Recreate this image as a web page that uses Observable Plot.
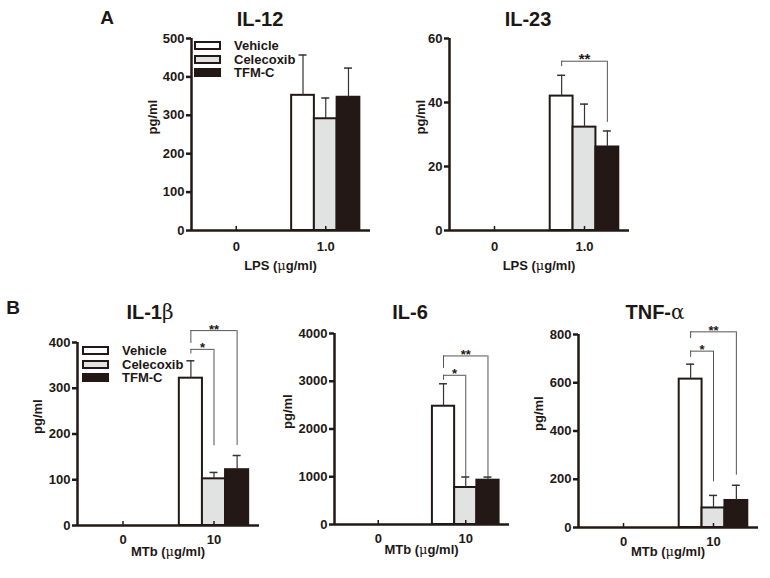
<!DOCTYPE html>
<html>
<head>
<meta charset="utf-8">
<script src="https://cdn.jsdelivr.net/npm/d3@7"></script>
<script src="https://cdn.jsdelivr.net/npm/@observablehq/plot@0.6"></script>
<style>
  body { margin: 0; background: #fff; }
  #wrap { position: relative; width: 770px; height: 578px; overflow: hidden; background: #fff;
          font-family: "Liberation Sans", Arial, sans-serif; color: #1d1715; }
  .abs { position: absolute; white-space: nowrap; line-height: 1; }
  .center { transform: translate(-50%, -50%); }
  .title { font-weight: bold; font-size: 20px; }
  .letter { font-weight: bold; font-size: 19px; }
  .xlab { font-weight: bold; font-size: 13px; }
  .greek { font-family: "DejaVu Serif", "Liberation Serif", serif; font-weight: normal; }
  .legrow { display: flex; align-items: center; height: 13.5px; font-weight: bold; font-size: 13px; }
  .sw { width: 23px; height: 5px; border: 2px solid #231815; margin-right: 13px; }
</style>
</head>
<body>
<div id="wrap"></div>
<script>
// ---------------- data ----------------
const treatments = ["Vehicle", "Celecoxib", "TFM-C"];
const treatmentFills = ["#ffffff", "#e1e3e3", "#231815"];
const lpsDoses = ["0", "1.0"];
const mtbDoses = ["0", "10"];

// mean and SD per dose (rows) and treatment (columns)
const il12Mean = [[0, 0, 0], [352, 291, 347]];
const il12Sd   = [[0, 0, 0], [105, 54, 76]];
const il23Mean = [[0, 0, 0], [42, 32.3, 26.1]];
const il23Sd   = [[0, 0, 0], [6.5, 7.2, 5.0]];
const il1bMean = [[0, 0, 0], [322, 102, 122]];
const il1bSd   = [[0, 0, 0], [38, 14, 31]];
const il6Mean  = [[0, 0, 0], [2477, 775, 928]];
const il6Sd    = [[0, 0, 0], [470, 220, 65]];
const tnfMean  = [[0, 0, 0], [615, 81, 112]];
const tnfSd    = [[0, 0, 0], [62, 52, 63]];

const il12Ticks = [0, 100, 200, 300, 400, 500];
const il23Ticks = [0, 20, 40, 60];
const il1bTicks = [0, 100, 200, 300, 400];
const il6Ticks  = [0, 1000, 2000, 3000, 4000];
const tnfTicks  = [0, 200, 400, 600, 800];

// significance brackets (y values in data units)
const il12Brackets = [];
const il23Brackets = [{from: "Vehicle", to: "TFM-C", label: "**", top: 52.9, leftEnd: 51.2, rightEnd: 33.8}];
const il1bBrackets = [
  {from: "Vehicle", to: "TFM-C", label: "**", top: 426, leftEnd: 398, rightEnd: 175},
  {from: "Vehicle", to: "Celecoxib", label: "*", top: 385, leftEnd: 375, rightEnd: 174}
];
const il6Brackets = [
  {from: "Vehicle", to: "TFM-C", label: "**", top: 3530, leftEnd: 3270, rightEnd: 1000},
  {from: "Vehicle", to: "Celecoxib", label: "*", top: 3125, leftEnd: 3020, rightEnd: 1000}
];
const tnfBrackets = [
  {from: "Vehicle", to: "TFM-C", label: "**", top: 811, leftEnd: 783, rightEnd: 217},
  {from: "Vehicle", to: "Celecoxib", label: "*", top: 731, leftEnd: 705, rightEnd: 189}
];

// ---------------- drawing ----------------
const INK = "#231815";
const BW = 0.254; // bar width as fraction of a dose group
const wrap = document.getElementById("wrap");

function addHtml(html, x, y, cls) {
  const d = document.createElement("div");
  d.className = "abs " + (cls || "");
  d.style.left = x + "px";
  d.style.top = y + "px";
  d.innerHTML = html;
  wrap.appendChild(d);
  return d;
}

function panel(p) {
  const ML = 62, MR = 12, MT = 42, MB = 40;
  const fw = p.frame.r - p.frame.l, fh = p.frame.b - p.frame.t;
  const rows = [];
  p.doses.forEach((dose, gi) => treatments.forEach((tr, ti) => {
    rows.push({dose, gi, treatment: tr, ti, mean: p.mean[gi][ti], sd: p.sd[gi][ti],
               cx: gi + 0.5 + (ti - 1) * BW});
  }));
  const shown = rows.filter(d => d.mean > 0);
  const center = (gi, tr) => gi + 0.5 + (treatments.indexOf(tr) - 1) * BW;
  const br = p.brackets.map(b => ({...b, x1: center(1, b.from), x2: center(1, b.to)}));
  const groupCenters = p.doses.map((d, i) => i + 0.5);

  const svg = Plot.plot({
    width: fw + ML + MR, height: fh + MT + MB,
    marginLeft: ML, marginRight: MR, marginTop: MT, marginBottom: MB,
    x: {domain: [0, p.doses.length]},
    y: {domain: [0, p.yMax]},
    color: {domain: treatments, range: treatmentFills},
    style: {fontFamily: '"Liberation Sans", Arial, sans-serif', fontSize: "13px", fontWeight: "bold",
            color: INK, background: "transparent", overflow: "visible"},
    marks: [
      Plot.rectY(shown, {x1: d => d.cx - BW / 2, x2: d => d.cx + BW / 2, y1: 0, y2: "mean",
                         fill: "treatment", stroke: INK, strokeWidth: 2}),
      Plot.ruleX(shown, {x: "cx", y1: "mean", y2: d => d.mean + d.sd, stroke: "#333", strokeWidth: 1.2}),
      Plot.ruleY(shown, {y: d => d.mean + d.sd, x1: "cx", x2: "cx", insetLeft: -4, insetRight: -4,
                         stroke: "#333", strokeWidth: 1.5}),
      Plot.ruleY(br, {y: "top", x1: "x1", x2: "x2", stroke: "#555", strokeWidth: 1}),
      Plot.ruleX(br, {x: "x1", y1: "top", y2: "leftEnd", stroke: "#555", strokeWidth: 1}),
      Plot.ruleX(br, {x: "x2", y1: "top", y2: "rightEnd", stroke: "#555", strokeWidth: 1}),
      Plot.text(br, {x: d => (d.x1 + d.x2) / 2, y: "top", text: "label", lineAnchor: "bottom",
                     dy: 3, fontSize: p.starSize, fill: INK}),
      Plot.ruleY([0], {stroke: INK, strokeWidth: 2.5}),
      Plot.ruleX([0], {stroke: INK, strokeWidth: 2.5}),
      Plot.tickX(groupCenters, {x: d => d, insetTop: fh - 4, stroke: INK, strokeWidth: 1.5}),
      Plot.axisY({ticks: p.yTicks, tickFormat: d3.format("d"), tickSize: 5, tickPadding: 2,
                  strokeWidth: 2.5, stroke: INK, label: null, fill: INK}),
      Plot.axisX({ticks: groupCenters, tickFormat: v => p.doses[Math.round(v - 0.5)], tickSize: 0,
                  tickPadding: p.tickPad, label: null, fill: INK}),
      Plot.text(["pg/ml"], {frameAnchor: "left", rotate: -90, dx: -p.yLabOffset, text: d => d,
                            fill: INK, fontSize: 13})
    ]
  });
  const holder = document.createElement("div");
  holder.className = "abs";
  holder.style.left = (p.frame.l - ML) + "px";
  holder.style.top = (p.frame.t - MT) + "px";
  holder.appendChild(svg);
  wrap.appendChild(holder);

  addHtml(p.title, p.titlePos[0], p.titlePos[1], "center title");
  addHtml(p.xLabel, (p.frame.l + p.frame.r) / 2, p.frame.b + p.xLabOffset, "center xlab");
  if (p.legend) {
    const lg = addHtml("", p.legend[0], p.legend[1], "");
    treatments.forEach((t, i) => {
      const r = document.createElement("div");
      r.className = "legrow";
      r.innerHTML = `<div class="sw" style="background:${treatmentFills[i]}"></div><span>${t}</span>`;
      lg.appendChild(r);
    });
  }
}

const lpsLabel = 'LPS (<span class="greek">μ</span>g/ml)';
const mtbLabel = 'MTb (<span class="greek">μ</span>g/ml)';

panel({title: "IL-12", titlePos: [260, 19], doses: lpsDoses, mean: il12Mean, sd: il12Sd, yMax: 500,
       yTicks: il12Ticks, brackets: il12Brackets, frame: {l: 191, r: 370, t: 38, b: 230},
       tickPad: 11, xLabel: lpsLabel, xLabOffset: 35, yLabOffset: 39, starSize: 14, legend: [194, 39]});
panel({title: "IL-23", titlePos: [528, 19], doses: lpsDoses, mean: il23Mean, sd: il23Sd, yMax: 60,
       yTicks: il23Ticks, brackets: il23Brackets, frame: {l: 449, r: 629, t: 38, b: 230},
       tickPad: 11, xLabel: lpsLabel, xLabOffset: 35, yLabOffset: 29, starSize: 15});
panel({title: 'IL-1<span class="greek">β</span>', titlePos: [150, 312], doses: mtbDoses, mean: il1bMean,
       sd: il1bSd, yMax: 400, yTicks: il1bTicks, brackets: il1bBrackets, frame: {l: 77, r: 259, t: 342, b: 525},
       tickPad: 9, xLabel: mtbLabel, xLabOffset: 26, yLabOffset: 40, starSize: 13, legend: [82, 344]});
panel({title: "IL-6", titlePos: [410, 312], doses: mtbDoses, mean: il6Mean, sd: il6Sd, yMax: 4000,
       yTicks: il6Ticks, brackets: il6Brackets, frame: {l: 334, r: 509, t: 333, b: 524},
       tickPad: 9, xLabel: mtbLabel, xLabOffset: 25, yLabOffset: 47, starSize: 13});
panel({title: 'TNF-<span class="greek">α</span>', titlePos: [655, 312], doses: mtbDoses, mean: tnfMean,
       sd: tnfSd, yMax: 800, yTicks: tnfTicks, brackets: tnfBrackets, frame: {l: 578, r: 758, t: 334, b: 527},
       tickPad: 9, xLabel: mtbLabel, xLabOffset: 24, yLabOffset: 40, starSize: 13});

addHtml("A", 107, 17, "center letter");
addHtml("B", 13, 307, "center letter");
</script>
</body>
</html>
